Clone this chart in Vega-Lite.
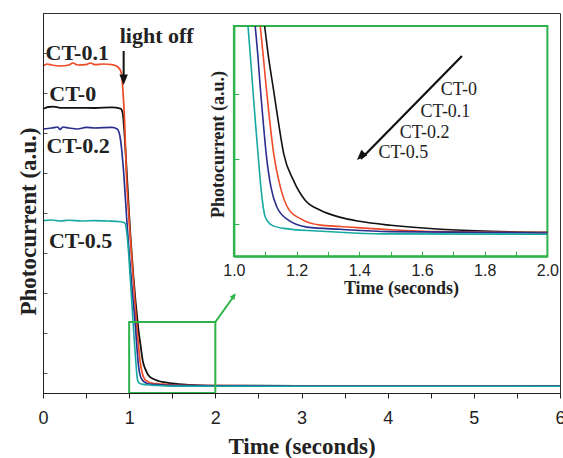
{
  "$schema": "https://vega.github.io/schema/vega-lite/v6.json",
  "width": 517,
  "height": 380,
  "autosize": {"type": "none"},
  "padding": {"left": 43, "top": 13, "right": 3, "bottom": 65},
  "background": "white",
  "config": {"view": {"stroke": "#333", "strokeWidth": 1}, "axis": {"grid": false}},
  "datasets": {
    "curves": [
      {"s": "CT-0", "t": 0, "u": 14.2}, {"s": "CT-0", "t": 0.06, "u": 14.3}, {"s": "CT-0", "t": 0.12, "u": 14.32}, {"s": "CT-0", "t": 0.2, "u": 14.26}, {"s": "CT-0", "t": 0.4, "u": 14.26}, {"s": "CT-0", "t": 0.6, "u": 14.25}, {"s": "CT-0", "t": 0.8, "u": 14.28}, {"s": "CT-0", "t": 0.9, "u": 14.22}, {"s": "CT-0", "t": 0.925, "u": 14.0}, {"s": "CT-0", "t": 0.94, "u": 13.3}, {"s": "CT-0", "t": 0.97, "u": 11.2}, {"s": "CT-0", "t": 1.0, "u": 8.9}, {"s": "CT-0", "t": 1.05, "u": 5.8}, {"s": "CT-0", "t": 1.098, "u": 3.55}, {"s": "CT-0", "t": 1.109, "u": 3.12}, {"s": "CT-0", "t": 1.125, "u": 2.61}, {"s": "CT-0", "t": 1.141, "u": 2.1}, {"s": "CT-0", "t": 1.159, "u": 1.58}, {"s": "CT-0", "t": 1.19, "u": 1.17}, {"s": "CT-0", "t": 1.228, "u": 0.86}, {"s": "CT-0", "t": 1.276, "u": 0.71}, {"s": "CT-0", "t": 1.34, "u": 0.6}, {"s": "CT-0", "t": 1.4, "u": 0.54}, {"s": "CT-0", "t": 1.5, "u": 0.478}, {"s": "CT-0", "t": 1.66, "u": 0.416}, {"s": "CT-0", "t": 1.82, "u": 0.385}, {"s": "CT-0", "t": 2.0, "u": 0.37}, {"s": "CT-0", "t": 3, "u": 0.36}, {"s": "CT-0", "t": 4, "u": 0.355}, {"s": "CT-0", "t": 5, "u": 0.35}, {"s": "CT-0", "t": 6, "u": 0.35},
      {"s": "CT-0.1", "t": 0, "u": 16.35}, {"s": "CT-0.1", "t": 0.05, "u": 16.45}, {"s": "CT-0.1", "t": 0.1, "u": 16.4}, {"s": "CT-0.1", "t": 0.2, "u": 16.35}, {"s": "CT-0.1", "t": 0.3, "u": 16.4}, {"s": "CT-0.1", "t": 0.35, "u": 16.5}, {"s": "CT-0.1", "t": 0.4, "u": 16.4}, {"s": "CT-0.1", "t": 0.5, "u": 16.42}, {"s": "CT-0.1", "t": 0.55, "u": 16.5}, {"s": "CT-0.1", "t": 0.6, "u": 16.42}, {"s": "CT-0.1", "t": 0.7, "u": 16.45}, {"s": "CT-0.1", "t": 0.8, "u": 16.42}, {"s": "CT-0.1", "t": 0.87, "u": 16.3}, {"s": "CT-0.1", "t": 0.91, "u": 16.0}, {"s": "CT-0.1", "t": 0.928, "u": 15.1}, {"s": "CT-0.1", "t": 0.948, "u": 13.5}, {"s": "CT-0.1", "t": 0.967, "u": 11.0}, {"s": "CT-0.1", "t": 1.0, "u": 8.6}, {"s": "CT-0.1", "t": 1.04, "u": 6.2}, {"s": "CT-0.1", "t": 1.084, "u": 3.55}, {"s": "CT-0.1", "t": 1.093, "u": 3.12}, {"s": "CT-0.1", "t": 1.103, "u": 2.61}, {"s": "CT-0.1", "t": 1.114, "u": 2.1}, {"s": "CT-0.1", "t": 1.127, "u": 1.58}, {"s": "CT-0.1", "t": 1.148, "u": 1.07}, {"s": "CT-0.1", "t": 1.174, "u": 0.73}, {"s": "CT-0.1", "t": 1.212, "u": 0.58}, {"s": "CT-0.1", "t": 1.276, "u": 0.48}, {"s": "CT-0.1", "t": 1.34, "u": 0.46}, {"s": "CT-0.1", "t": 1.5, "u": 0.41}, {"s": "CT-0.1", "t": 1.66, "u": 0.38}, {"s": "CT-0.1", "t": 2.0, "u": 0.365}, {"s": "CT-0.1", "t": 3, "u": 0.355}, {"s": "CT-0.1", "t": 6, "u": 0.35},
      {"s": "CT-0.2", "t": 0, "u": 13.2}, {"s": "CT-0.2", "t": 0.1, "u": 13.25}, {"s": "CT-0.2", "t": 0.17, "u": 13.3}, {"s": "CT-0.2", "t": 0.2, "u": 13.17}, {"s": "CT-0.2", "t": 0.23, "u": 13.3}, {"s": "CT-0.2", "t": 0.3, "u": 13.25}, {"s": "CT-0.2", "t": 0.4, "u": 13.2}, {"s": "CT-0.2", "t": 0.5, "u": 13.28}, {"s": "CT-0.2", "t": 0.6, "u": 13.25}, {"s": "CT-0.2", "t": 0.8, "u": 13.28}, {"s": "CT-0.2", "t": 0.86, "u": 13.2}, {"s": "CT-0.2", "t": 0.89, "u": 12.9}, {"s": "CT-0.2", "t": 0.91, "u": 12.3}, {"s": "CT-0.2", "t": 0.94, "u": 10.8}, {"s": "CT-0.2", "t": 0.97, "u": 8.8}, {"s": "CT-0.2", "t": 1.0, "u": 7.0}, {"s": "CT-0.2", "t": 1.03, "u": 5.4}, {"s": "CT-0.2", "t": 1.068, "u": 3.55}, {"s": "CT-0.2", "t": 1.076, "u": 3.12}, {"s": "CT-0.2", "t": 1.084, "u": 2.61}, {"s": "CT-0.2", "t": 1.093, "u": 2.1}, {"s": "CT-0.2", "t": 1.103, "u": 1.58}, {"s": "CT-0.2", "t": 1.118, "u": 1.07}, {"s": "CT-0.2", "t": 1.137, "u": 0.76}, {"s": "CT-0.2", "t": 1.174, "u": 0.556}, {"s": "CT-0.2", "t": 1.233, "u": 0.45}, {"s": "CT-0.2", "t": 1.34, "u": 0.416}, {"s": "CT-0.2", "t": 1.5, "u": 0.38}, {"s": "CT-0.2", "t": 2.0, "u": 0.36}, {"s": "CT-0.2", "t": 3, "u": 0.35}, {"s": "CT-0.2", "t": 6, "u": 0.345},
      {"s": "CT-0.5", "t": 0, "u": 8.62}, {"s": "CT-0.5", "t": 0.1, "u": 8.65}, {"s": "CT-0.5", "t": 0.2, "u": 8.6}, {"s": "CT-0.5", "t": 0.3, "u": 8.64}, {"s": "CT-0.5", "t": 0.45, "u": 8.6}, {"s": "CT-0.5", "t": 0.6, "u": 8.62}, {"s": "CT-0.5", "t": 0.75, "u": 8.6}, {"s": "CT-0.5", "t": 0.9, "u": 8.56}, {"s": "CT-0.5", "t": 0.95, "u": 8.5}, {"s": "CT-0.5", "t": 0.97, "u": 8.1}, {"s": "CT-0.5", "t": 0.99, "u": 7.2}, {"s": "CT-0.5", "t": 1.01, "u": 5.9}, {"s": "CT-0.5", "t": 1.03, "u": 4.6}, {"s": "CT-0.5", "t": 1.045, "u": 3.55}, {"s": "CT-0.5", "t": 1.052, "u": 3.12}, {"s": "CT-0.5", "t": 1.06, "u": 2.61}, {"s": "CT-0.5", "t": 1.068, "u": 2.1}, {"s": "CT-0.5", "t": 1.077, "u": 1.58}, {"s": "CT-0.5", "t": 1.086, "u": 1.07}, {"s": "CT-0.5", "t": 1.1, "u": 0.606}, {"s": "CT-0.5", "t": 1.121, "u": 0.48}, {"s": "CT-0.5", "t": 1.159, "u": 0.43}, {"s": "CT-0.5", "t": 1.265, "u": 0.39}, {"s": "CT-0.5", "t": 1.382, "u": 0.36}, {"s": "CT-0.5", "t": 1.5, "u": 0.345}, {"s": "CT-0.5", "t": 2.0, "u": 0.34}, {"s": "CT-0.5", "t": 3, "u": 0.34}, {"s": "CT-0.5", "t": 6, "u": 0.34}
    ]
  },
  "layer": [
    {
      "layer": [
        {
          "data": {"name": "curves"},
          "mark": {"type": "line", "interpolate": "monotone"},
          "encoding": {
            "x": {"field": "t", "type": "quantitative", "scale": {"domain": [0, 6], "nice": false},
              "axis": {"orient": "bottom", "values": [0, 0.5, 1, 1.5, 2, 2.5, 3, 3.5, 4, 4.5, 5, 5.5, 6], "labelExpr": "datum.value % 1 === 0 ? format(datum.value, 'd') : ''", "tickSize": 5, "tickColor": "#222", "domainColor": "#222", "labelFont": "Liberation Sans", "labelFontSize": 18, "labelColor": "#222", "labelBaseline": "alphabetic", "labelPadding": 25, "labelFlush": false, "labelOverlap": false, "title": "Time (seconds)", "titleFont": "Liberation Serif", "titleFontWeight": "bold", "titleFontSize": 23, "titleColor": "#222", "titleBaseline": "alphabetic", "titleY": 60, "zindex": 1}},
            "y": {"field": "u", "type": "quantitative", "scale": {"domain": [0, 19], "nice": false},
              "axis": {"orient": "left", "values": [1, 2, 3, 4, 5, 6, 7, 8, 9, 10, 11, 12, 13, 14, 15, 16, 17, 18], "labels": false, "tickSize": -4, "tickColor": "#555", "domainColor": "#222", "title": "Photocurrent (a.u.)", "titleFont": "Liberation Serif", "titleFontWeight": "bold", "titleFontSize": 23, "titleColor": "#222", "titleAngle": -90, "titleX": -8, "titleY": 208, "titleAlign": "center", "titleBaseline": "alphabetic", "zindex": 1}},
            "color": {"field": "s", "type": "nominal", "scale": {"domain": ["CT-0", "CT-0.1", "CT-0.2", "CT-0.5"], "range": ["#111111", "#ef4b27", "#2a2f8f", "#17a8a1"]}, "legend": null},
            "strokeWidth": {"field": "s", "type": "nominal", "scale": {"domain": ["CT-0", "CT-0.1", "CT-0.2", "CT-0.5"], "range": [1.8, 1.6, 1.6, 3]}, "legend": null}
          }
        },
        {
          "data": {"values": [{}]},
          "mark": {"type": "rect", "fill": null, "stroke": "#2db34a", "strokeWidth": 2},
          "encoding": {"x": {"datum": 1, "type": "quantitative"}, "x2": {"datum": 2}, "y": {"datum": 0, "type": "quantitative"}, "y2": {"datum": 3.55}}
        },
        {
          "data": {"values": [{}]},
          "mark": {"type": "rule", "stroke": "#2db34a", "strokeWidth": 2},
          "encoding": {"x": {"datum": 2, "type": "quantitative"}, "x2": {"datum": 2.225}, "y": {"datum": 3.55, "type": "quantitative"}, "y2": {"datum": 4.9}}
        },
        {
          "data": {"values": [{}]},
          "mark": {"type": "point", "shape": "M0,0 L-0.45,-1 L0.45,-1 Z", "filled": true, "fill": "#2db34a", "opacity": 1, "size": 160, "angle": 215},
          "encoding": {"x": {"datum": 2.236, "type": "quantitative"}, "y": {"datum": 4.99, "type": "quantitative"}}
        },
        {
          "data": {"values": [{}]},
          "mark": {"type": "rule", "stroke": "#111", "strokeWidth": 2},
          "encoding": {"x": {"datum": 0.936, "type": "quantitative"}, "y": {"datum": 17.1, "type": "quantitative"}, "y2": {"datum": 15.8}}
        },
        {
          "data": {"values": [{}]},
          "mark": {"type": "point", "shape": "M0,0 L-0.4,-1 L0.4,-1 Z", "filled": true, "fill": "#111", "opacity": 1, "size": 440, "angle": 0},
          "encoding": {"x": {"datum": 0.936, "type": "quantitative"}, "y": {"datum": 15.4, "type": "quantitative"}}
        },
        {
          "data": {"values": [{}]},
          "mark": {"type": "text", "text": "CT-0.1", "font": "Liberation Serif", "fontWeight": "bold", "fontSize": 22, "align": "center", "baseline": "alphabetic", "fill": "#222"},
          "encoding": {"x": {"datum": 0.397, "type": "quantitative"}, "y": {"datum": 16.64, "type": "quantitative"}}
        },
        {
          "data": {"values": [{}]},
          "mark": {"type": "text", "text": "CT-0", "font": "Liberation Serif", "fontWeight": "bold", "fontSize": 22, "align": "center", "baseline": "alphabetic", "fill": "#222"},
          "encoding": {"x": {"datum": 0.345, "type": "quantitative"}, "y": {"datum": 14.59, "type": "quantitative"}}
        },
        {
          "data": {"values": [{}]},
          "mark": {"type": "text", "text": "CT-0.2", "font": "Liberation Serif", "fontWeight": "bold", "fontSize": 22, "align": "center", "baseline": "alphabetic", "fill": "#222"},
          "encoding": {"x": {"datum": 0.408, "type": "quantitative"}, "y": {"datum": 11.99, "type": "quantitative"}}
        },
        {
          "data": {"values": [{}]},
          "mark": {"type": "text", "text": "CT-0.5", "font": "Liberation Serif", "fontWeight": "bold", "fontSize": 22, "align": "center", "baseline": "alphabetic", "fill": "#222"},
          "encoding": {"x": {"datum": 0.437, "type": "quantitative"}, "y": {"datum": 7.24, "type": "quantitative"}}
        },
        {
          "data": {"values": [{}]},
          "mark": {"type": "text", "text": "light off", "font": "Liberation Serif", "fontWeight": "bold", "fontSize": 22, "align": "center", "baseline": "alphabetic", "fill": "#222"},
          "encoding": {"x": {"datum": 1.319, "type": "quantitative"}, "y": {"datum": 17.49, "type": "quantitative"}}
        }
      ]
    },
    {
      "layer": [
        {
          "data": {"values": [{}]},
          "mark": {"type": "rect", "fill": null, "stroke": "#2db34a", "strokeWidth": 2},
          "encoding": {
            "x": {"datum": 1, "type": "quantitative", "scale": {"domain": [1, 2], "range": [190.9, 504.4], "nice": false, "zero": false},
              "axis": {"orient": "bottom", "offset": -136.7, "values": [1, 1.1, 1.2, 1.3, 1.4, 1.5, 1.6, 1.7, 1.8, 1.9, 2], "labelExpr": "round(datum.value * 10) % 2 === 0 ? format(datum.value, '.1f') : ''", "tickSize": -5, "tickColor": "#2db34a", "domainColor": "#2db34a", "domainWidth": 2, "labelFont": "Liberation Sans", "labelFontSize": 16, "labelColor": "#222", "labelBaseline": "alphabetic", "labelPadding": 24, "labelFlush": false, "labelOverlap": false, "title": "Time (seconds)", "titleFont": "Liberation Serif", "titleFontWeight": "bold", "titleFontSize": 18, "titleColor": "#222", "titleBaseline": "alphabetic", "titleX": 358, "titleY": 37, "zindex": 1}},
            "x2": {"datum": 2},
            "y": {"datum": 0, "type": "quantitative", "scale": {"domain": [0, 3.55], "range": [243.3, 13], "nice": false, "zero": false},
              "axis": {"orient": "left", "offset": -190.9, "values": [0.5, 1.5, 2.5], "labels": false, "tickSize": -5, "tickColor": "#2db34a", "domainColor": "#2db34a", "domainWidth": 2, "title": "Photocurrent (a.u.)", "titleFont": "Liberation Serif", "titleFontWeight": "bold", "titleFontSize": 18, "titleColor": "#222", "titleAngle": -90, "titleX": -10, "titleY": 131, "titleAlign": "center", "titleBaseline": "alphabetic", "zindex": 1}},
            "y2": {"datum": 3.55}
          }
        },
        {
          "data": {"name": "curves"},
          "transform": [{"filter": "datum.t >= 1 && datum.t <= 2 && datum.u <= 3.56"}],
          "mark": {"type": "line", "strokeWidth": 1.6, "interpolate": "monotone"},
          "encoding": {
            "x": {"field": "t", "type": "quantitative", "scale": {"domain": [1, 2], "range": [190.9, 504.4], "nice": false, "zero": false}},
            "y": {"field": "u", "type": "quantitative", "scale": {"domain": [0, 3.55], "range": [243.3, 13], "nice": false, "zero": false}},
            "color": {"field": "s", "type": "nominal", "scale": {"domain": ["CT-0", "CT-0.1", "CT-0.2", "CT-0.5"], "range": ["#111111", "#ef4b27", "#2a2f8f", "#17a8a1"]}, "legend": null}
          }
        },
        {
          "data": {"values": [{}]},
          "mark": {"type": "rule", "stroke": "#111", "strokeWidth": 2.2},
          "encoding": {"x": {"datum": 1.7275, "type": "quantitative"}, "x2": {"datum": 1.405}, "y": {"datum": 3.086, "type": "quantitative"}, "y2": {"datum": 1.5}}
        },
        {
          "data": {"values": [{}]},
          "mark": {"type": "point", "shape": "M0,0 L-0.4,-1 L0.4,-1 Z", "filled": true, "fill": "#111", "opacity": 1, "size": 440, "angle": 45},
          "encoding": {"x": {"datum": 1.3925, "type": "quantitative"}, "y": {"datum": 1.484, "type": "quantitative"}}
        },
        {
          "data": {"values": [{}]},
          "mark": {"type": "text", "text": "CT-0", "font": "Liberation Serif", "fontSize": 18, "align": "center", "baseline": "alphabetic", "fill": "#222"},
          "encoding": {"x": {"datum": 1.7178, "type": "quantitative"}, "y": {"datum": 2.481, "type": "quantitative"}}
        },
        {
          "data": {"values": [{}]},
          "mark": {"type": "text", "text": "CT-0.1", "font": "Liberation Serif", "fontSize": 18, "align": "center", "baseline": "alphabetic", "fill": "#222"},
          "encoding": {"x": {"datum": 1.6748, "type": "quantitative"}, "y": {"datum": 2.146, "type": "quantitative"}}
        },
        {
          "data": {"values": [{}]},
          "mark": {"type": "text", "text": "CT-0.2", "font": "Liberation Serif", "fontSize": 18, "align": "center", "baseline": "alphabetic", "fill": "#222"},
          "encoding": {"x": {"datum": 1.6084, "type": "quantitative"}, "y": {"datum": 1.829, "type": "quantitative"}}
        },
        {
          "data": {"values": [{}]},
          "mark": {"type": "text", "text": "CT-0.5", "font": "Liberation Serif", "fontSize": 18, "align": "center", "baseline": "alphabetic", "fill": "#222"},
          "encoding": {"x": {"datum": 1.5407, "type": "quantitative"}, "y": {"datum": 1.521, "type": "quantitative"}}
        }
      ]
    }
  ],
  "resolve": {"scale": {"x": "independent", "y": "independent"}, "axis": {"x": "independent", "y": "independent"}}
}
